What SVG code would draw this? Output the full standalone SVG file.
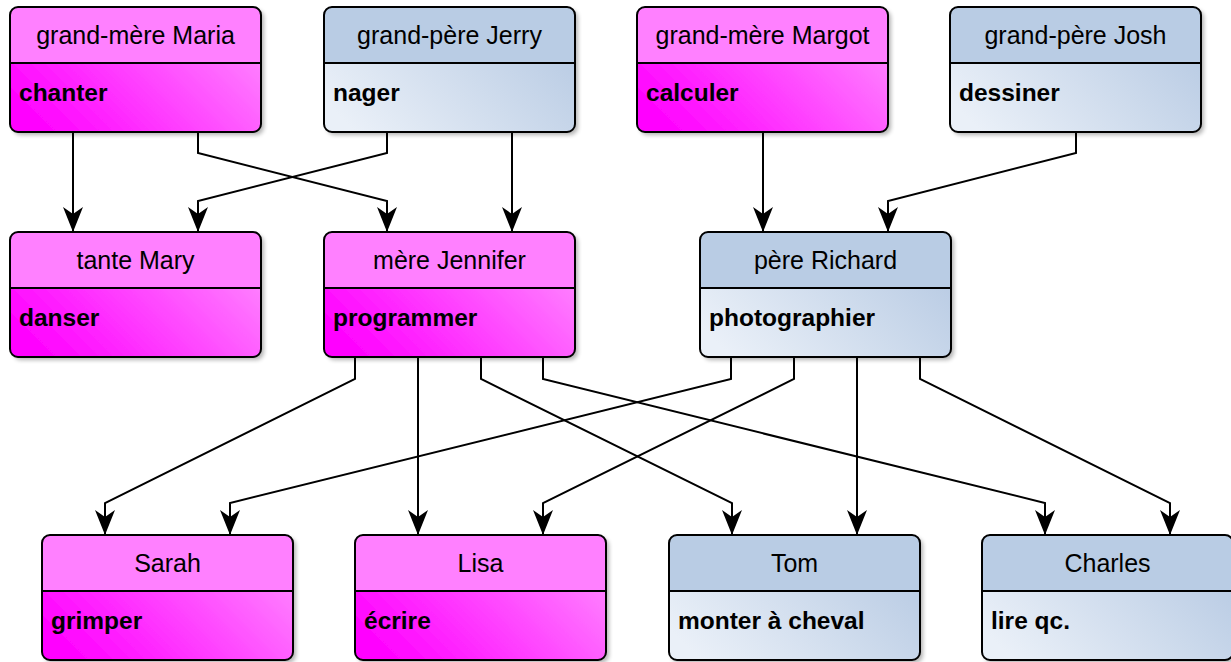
<svg xmlns="http://www.w3.org/2000/svg" width="1231" height="662" viewBox="0 0 1231 662">
<style>
.hd{font-family:"Liberation Sans",Arial,sans-serif;font-size:25px;fill:#000;text-anchor:middle}
.bd{font-family:"Liberation Sans",Arial,sans-serif;font-size:24.5px;font-weight:bold;fill:#000}
.frame{fill:none;stroke:#000;stroke-width:2}
.div{stroke:#000;stroke-width:2}
.hm{fill:#FF80FF}
.hb{fill:#B9CCE4}
.bm{fill:url(#gm)}
.bb{fill:url(#gb)}
.sh{filter:url(#shadow)}
.edge{fill:none;stroke:#000;stroke-width:2;marker-end:url(#arr)}
</style>
<defs>
<linearGradient id="gm" x1="0" y1="0.75" x2="1" y2="0.25">
<stop offset="0" stop-color="#FF00FF"/>
<stop offset="1" stop-color="#FF88FF"/>
</linearGradient>
<linearGradient id="gb" x1="0" y1="0.75" x2="1" y2="0.25">
<stop offset="0" stop-color="#EAF0F8"/>
<stop offset="1" stop-color="#B7CAE3"/>
</linearGradient>
<filter id="shadow" x="-10%" y="-10%" width="130%" height="130%">
<feGaussianBlur in="SourceAlpha" stdDeviation="2"/>
<feOffset dx="3" dy="3" result="b"/>
<feComponentTransfer><feFuncA type="linear" slope="0.3"/></feComponentTransfer>
<feMerge><feMergeNode/><feMergeNode in="SourceGraphic"/></feMerge>
</filter>
<marker id="arr" viewBox="0 0 25 20" refX="25" refY="10" markerWidth="25" markerHeight="20" markerUnits="userSpaceOnUse" orient="auto">
<path d="M0,0 L25,10 L0,20 L7,10 Z" fill="#000"/>
</marker>
</defs>

<g id="connectors">
<path class="edge" d="M73,132 V232"/>
<path class="edge" d="M198,132 V153 L387,201 V232"/>
<path class="edge" d="M387,132 V153 L198,201 V232"/>
<path class="edge" d="M512,132 V232"/>
<path class="edge" d="M763,132 V232"/>
<path class="edge" d="M1076,132 V153 L888,201 V232"/>
<path class="edge" d="M355,357 V379 L105,503 V535"/>
<path class="edge" d="M418,357 V535"/>
<path class="edge" d="M481,357 V379 L732,503 V535"/>
<path class="edge" d="M543,357 V379 L1045,503 V535"/>
<path class="edge" d="M731,357 V379 L230,503 V535"/>
<path class="edge" d="M794,357 V379 L543,503 V535"/>
<path class="edge" d="M857,357 V535"/>
<path class="edge" d="M920,357 V379 L1170,503 V535"/>
</g>

<g id="maria" transform="translate(10,7)">
<rect class="bm sh" width="251" height="125" rx="8"/>
<path class="hm" d="M0,56 V8 Q0,0 8,0 H243 Q251,0 251,8 V56 Z"/>
<line class="div" x1="0" y1="56" x2="251" y2="56"/>
<rect class="frame" width="251" height="125" rx="8"/>
<text class="hd" x="125.5" y="37">grand-mère Maria</text>
<text class="bd" x="9" y="94">chanter</text>
</g>

<g id="jerry" transform="translate(324,7)">
<rect class="bb sh" width="251" height="125" rx="8"/>
<path class="hb" d="M0,56 V8 Q0,0 8,0 H243 Q251,0 251,8 V56 Z"/>
<line class="div" x1="0" y1="56" x2="251" y2="56"/>
<rect class="frame" width="251" height="125" rx="8"/>
<text class="hd" x="125.5" y="37">grand-père Jerry</text>
<text class="bd" x="9" y="94">nager</text>
</g>

<g id="margot" transform="translate(637,7)">
<rect class="bm sh" width="251" height="125" rx="8"/>
<path class="hm" d="M0,56 V8 Q0,0 8,0 H243 Q251,0 251,8 V56 Z"/>
<line class="div" x1="0" y1="56" x2="251" y2="56"/>
<rect class="frame" width="251" height="125" rx="8"/>
<text class="hd" x="125.5" y="37">grand-mère Margot</text>
<text class="bd" x="9" y="94">calculer</text>
</g>

<g id="josh" transform="translate(950,7)">
<rect class="bb sh" width="251" height="125" rx="8"/>
<path class="hb" d="M0,56 V8 Q0,0 8,0 H243 Q251,0 251,8 V56 Z"/>
<line class="div" x1="0" y1="56" x2="251" y2="56"/>
<rect class="frame" width="251" height="125" rx="8"/>
<text class="hd" x="125.5" y="37">grand-père Josh</text>
<text class="bd" x="9" y="94">dessiner</text>
</g>

<g id="mary" transform="translate(10,232)">
<rect class="bm sh" width="251" height="125" rx="8"/>
<path class="hm" d="M0,56 V8 Q0,0 8,0 H243 Q251,0 251,8 V56 Z"/>
<line class="div" x1="0" y1="56" x2="251" y2="56"/>
<rect class="frame" width="251" height="125" rx="8"/>
<text class="hd" x="125.5" y="37">tante Mary</text>
<text class="bd" x="9" y="94">danser</text>
</g>

<g id="jennifer" transform="translate(324,232)">
<rect class="bm sh" width="251" height="125" rx="8"/>
<path class="hm" d="M0,56 V8 Q0,0 8,0 H243 Q251,0 251,8 V56 Z"/>
<line class="div" x1="0" y1="56" x2="251" y2="56"/>
<rect class="frame" width="251" height="125" rx="8"/>
<text class="hd" x="125.5" y="37">mère Jennifer</text>
<text class="bd" x="9" y="94">programmer</text>
</g>

<g id="richard" transform="translate(700,232)">
<rect class="bb sh" width="251" height="125" rx="8"/>
<path class="hb" d="M0,56 V8 Q0,0 8,0 H243 Q251,0 251,8 V56 Z"/>
<line class="div" x1="0" y1="56" x2="251" y2="56"/>
<rect class="frame" width="251" height="125" rx="8"/>
<text class="hd" x="125.5" y="37">père Richard</text>
<text class="bd" x="9" y="94">photographier</text>
</g>

<g id="sarah" transform="translate(42,535)">
<rect class="bm sh" width="251" height="125" rx="8"/>
<path class="hm" d="M0,56 V8 Q0,0 8,0 H243 Q251,0 251,8 V56 Z"/>
<line class="div" x1="0" y1="56" x2="251" y2="56"/>
<rect class="frame" width="251" height="125" rx="8"/>
<text class="hd" x="125.5" y="37">Sarah</text>
<text class="bd" x="9" y="94">grimper</text>
</g>

<g id="lisa" transform="translate(355,535)">
<rect class="bm sh" width="251" height="125" rx="8"/>
<path class="hm" d="M0,56 V8 Q0,0 8,0 H243 Q251,0 251,8 V56 Z"/>
<line class="div" x1="0" y1="56" x2="251" y2="56"/>
<rect class="frame" width="251" height="125" rx="8"/>
<text class="hd" x="125.5" y="37">Lisa</text>
<text class="bd" x="9" y="94">écrire</text>
</g>

<g id="tom" transform="translate(669,535)">
<rect class="bb sh" width="251" height="125" rx="8"/>
<path class="hb" d="M0,56 V8 Q0,0 8,0 H243 Q251,0 251,8 V56 Z"/>
<line class="div" x1="0" y1="56" x2="251" y2="56"/>
<rect class="frame" width="251" height="125" rx="8"/>
<text class="hd" x="125.5" y="37">Tom</text>
<text class="bd" x="9" y="94">monter à cheval</text>
</g>

<g id="charles" transform="translate(982,535)">
<rect class="bb sh" width="251" height="125" rx="8"/>
<path class="hb" d="M0,56 V8 Q0,0 8,0 H243 Q251,0 251,8 V56 Z"/>
<line class="div" x1="0" y1="56" x2="251" y2="56"/>
<rect class="frame" width="251" height="125" rx="8"/>
<text class="hd" x="125.5" y="37">Charles</text>
<text class="bd" x="9" y="94">lire qc.</text>
</g>
</svg>
